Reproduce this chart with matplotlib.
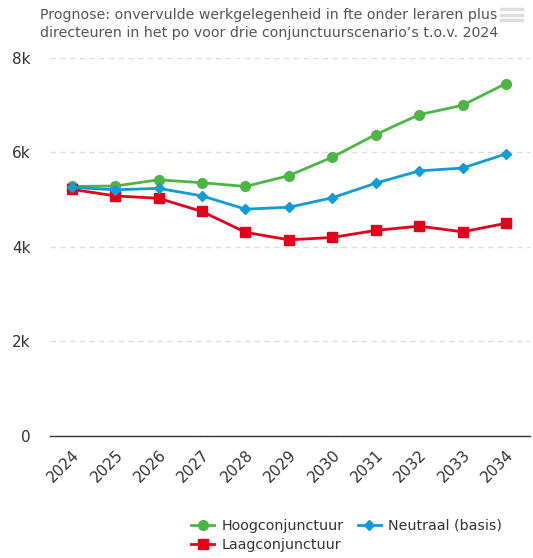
import matplotlib.pyplot as plt
from matplotlib.lines import Line2D

jaren = ["2024", "2025", "2026", "2027", "2028", "2029", "2030", "2031", "2032", "2033", "2034"]
hoog = [5280, 5290, 5420, 5360, 5280, 5510, 5900, 6380, 6800, 7000, 7460]
neutraal = [5260, 5210, 5240, 5080, 4800, 4840, 5040, 5350, 5610, 5670, 5970]
laag = [5220, 5080, 5030, 4750, 4310, 4150, 4200, 4350, 4440, 4320, 4500]

plt.rcParams["font.family"] = "DejaVu Sans"

fig = plt.figure(figsize=(5.33, 5.58), dpi=100)
ax = fig.add_axes([0.094, 0.219, 0.9, 0.677])

x = range(len(jaren))
ax.plot(x, hoog, color="#4db546", linewidth=2, marker="o", markersize=7, label="Hoogconjunctuur", zorder=3)
ax.plot(x, laag, color="#e2001a", linewidth=2, marker="s", markersize=7, label="Laagconjunctuur", zorder=3)
ax.plot(x, neutraal, color="#129bd6", linewidth=2, marker="D", markersize=5, label="Neutraal (basis)", zorder=4)

ax.set_xlim(-0.5, 10.55)
ax.set_ylim(0, 8000)
ax.set_yticks([0, 2000, 4000, 6000, 8000])
ax.set_yticklabels(["0", "2k", "4k", "6k", "8k"], fontsize=11, color="#333333")
ax.set_xticks(list(x))
ax.set_xticklabels(jaren, rotation=45, ha="right", rotation_mode="anchor", fontsize=11, color="#333333")
ax.tick_params(axis="y", length=0, pad=14)
ax.tick_params(axis="x", length=0, pad=8)

ax.grid(axis="y", color="#dddddd", linestyle=(0, (4, 3)), linewidth=1)
ax.set_axisbelow(True)
for s in ["top", "right", "left"]:
    ax.spines[s].set_visible(False)
ax.spines["bottom"].set_color("#333333")
ax.spines["bottom"].set_linewidth(1)

fig.text(0.505, 0.985, "Prognose: onvervulde werkgelegenheid in fte onder leraren plus\n"
         "directeuren in het po voor drie conjunctuurscenario\u2019s t.o.v. 2024",
         ha="center", va="top", fontsize=10.2, color="#555555", linespacing=1.3)

# menu icon rechtsboven
for yy in [0.984, 0.974, 0.964]:
    fig.add_artist(Line2D([0.94, 0.98], [yy, yy], color="#dddddd", linewidth=2.5))

# kolomsgewijs gevuld: rij 1 = Hoog + Neutraal, rij 2 = Laag
fig.legend(loc="lower left", bbox_to_anchor=(0.335, -0.012), ncol=2, frameon=False, fontsize=10.3,
           handlelength=1.6, columnspacing=1.0, labelspacing=0.35, handletextpad=0.5,
           labelcolor="#333333")

fig.savefig("out.png", dpi=100)
